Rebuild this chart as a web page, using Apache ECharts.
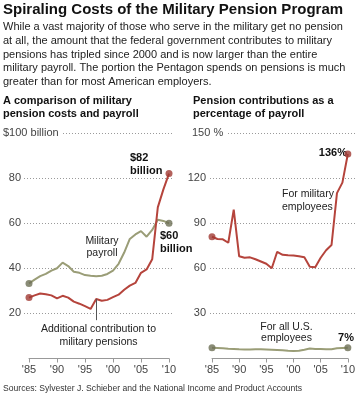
<!DOCTYPE html>
<html><head><meta charset="utf-8">
<script src="https://cdn.jsdelivr.net/npm/echarts@6/dist/echarts.min.js"></script>
<style>html,body{margin:0;padding:0;background:#fff}#c{width:358px;height:400px}</style>
</head><body><div id="c"></div>
<script>
// ---- data ----
const years = [1985,1986,1987,1988,1989,1990,1991,1992,1993,1994,1995,1996,1997,1998,1999,2000,2001,2002,2003,2004,2005,2006,2007,2008,2009,2010];
const payroll = [33.3,35,36.5,37.5,39,40,42.5,41,38.5,38,37,36.7,36.5,36.7,37.5,39,42,47,53,55,56.5,54,57,61.5,61,60];
const pensionCost = [27,28,28.8,28.5,28,26.7,27.8,27,25.2,24.3,23.2,22,26.4,25.6,26,27.2,28.3,30.5,32.3,33.5,38,39.5,44,67,75,82];
const militaryPct = [81,79.5,79.3,77,99,68,67,67.3,66,64.5,63,60,71,69,68.7,68.5,68,67.3,61,60.7,67,72,75.5,110,117,136];
const allUSPct = [7.2,7,6.8,6.5,6.3,6.1,6,6,6.1,6.1,6,5.9,5.7,5.5,5.2,5,5.2,5.8,6.6,6.4,6.3,6.2,6.2,6.8,7,7.1];
const xTickValues = [1985,1990,1995,2000,2005,2010];
const xTickLabels = ["'85","'90","'95","'00","'05","'10"];
const leftYTickValues = [20,40,60,80,100];
const leftYTickLabels = ['20','40','60','80','$100 billion'];
const rightYTickValues = [30,60,90,120,150];
const rightYTickLabels = ['30','60','90','120','150 %'];
const leaderYear = 1997, leaderEnd = 17;

const RED = '#b5443c', RED_DOT = '#a03a33', GREEN = '#9a9d77', GREEN_DOT = '#6d6f55';
const FONT = "'Liberation Sans', Arial, Helvetica, sans-serif";

function pairs(vals){ return years.map((y,i)=>[y, vals[i]]); }
function ends(vals){ return [[years[0], vals[0]], [years[years.length-1], vals[vals.length-1]]]; }
function xLabel(v){ const i = xTickValues.indexOf(v); return i >= 0 ? xTickLabels[i] : ''; }

function gridYAxis(idx, min, max, interval, vals, labels, w){
  return {
    gridIndex: idx, type: 'value', min: min, max: max, interval: interval,
    axisLine: {show: false}, axisTick: {show: false},
    axisLabel: {
      inside: true, margin: 0, color: '#444', fontFamily: FONT, fontSize: 11,
      backgroundColor: '#fff', padding: [1, 3, 1, 0],
      formatter: function(v){
        const i = vals.indexOf(v); if (i < 0) return '';
        return i === vals.length - 1 ? '{t|' + labels[i] + '}' : '{n|' + labels[i] + '}';
      },
      rich: {
        n: {width: w, align: 'right', color: '#444', fontFamily: FONT, fontSize: 11},
        t: {color: '#444', fontFamily: FONT, fontSize: 11}
      }
    },
    splitLine: {show: true, lineStyle: {color: '#9a9a9a', width: 1, type: [1, 2]}}
  };
}
function dataXAxis(idx){
  return {
    gridIndex: idx, type: 'value', min: 1985, max: 2010, interval: 5,
    axisLine: {show: true, lineStyle: {color: '#999', width: 1}},
    axisTick: {show: true, length: 4, lineStyle: {color: '#999'}},
    axisLabel: {formatter: xLabel, color: '#444', fontFamily: FONT, fontSize: 11, margin: 6},
    splitLine: {show: false}
  };
}
function txt(x, y, text, opts){
  opts = opts || {};
  return {type: 'text', x: x, y: y, silent: true, style: {
    text: text, fill: opts.fill || '#222',
    font: (opts.bold ? 'bold ' : '') + (opts.size || 11) + 'px ' + FONT,
    align: opts.align || 'left', verticalAlign: 'middle', lineHeight: opts.lh || 13
  }};
}

const chart = echarts.init(document.getElementById('c'), null, {renderer: 'canvas'});
chart.setOption({
  animation: false,
  backgroundColor: '#fff',
  grid: [
    {left: 3, right: 185, top: 133, bottom: 86.6},
    {left: 29, right: 189, top: 133, bottom: 41.5},
    {left: 192, right: 1, top: 133, bottom: 86.6},
    {left: 212, right: 6, top: 133, bottom: 41.5}
  ],
  xAxis: [
    {gridIndex: 0, type: 'value', min: 0, max: 1, show: false},
    dataXAxis(1),
    {gridIndex: 2, type: 'value', min: 0, max: 1, show: false},
    dataXAxis(3)
  ],
  yAxis: [
    gridYAxis(0, 20, 100, 20, leftYTickValues, leftYTickLabels, 18),
    {gridIndex: 1, type: 'value', min: 0, max: 100, show: false},
    gridYAxis(2, 30, 150, 30, rightYTickValues, rightYTickLabels, 14),
    {gridIndex: 3, type: 'value', min: 0, max: 150, show: false}
  ],
  series: [
    {type: 'line', xAxisIndex: 1, yAxisIndex: 1, data: pairs(payroll), symbol: 'none',
     lineStyle: {color: GREEN, width: 2}, z: 3},
    {type: 'line', xAxisIndex: 1, yAxisIndex: 1, data: pairs(pensionCost), symbol: 'none',
     lineStyle: {color: RED, width: 2}, z: 4,
     markLine: {silent: true, symbol: 'none', label: {show: false},
       lineStyle: {color: '#555', width: 1, type: 'solid'},
       data: [[{coord: [leaderYear, pensionCost[years.indexOf(leaderYear)]]}, {coord: [leaderYear, leaderEnd]}]]}},
    {type: 'scatter', xAxisIndex: 1, yAxisIndex: 1, data: ends(payroll), symbolSize: 7,
     itemStyle: {color: GREEN_DOT}, z: 5},
    {type: 'scatter', xAxisIndex: 1, yAxisIndex: 1, data: ends(pensionCost), symbolSize: 7,
     itemStyle: {color: RED_DOT}, z: 5},
    {type: 'line', xAxisIndex: 3, yAxisIndex: 3, data: pairs(militaryPct), symbol: 'none',
     lineStyle: {color: RED, width: 2}, z: 4},
    {type: 'line', xAxisIndex: 3, yAxisIndex: 3, data: pairs(allUSPct), symbol: 'none',
     lineStyle: {color: GREEN, width: 2}, z: 3},
    {type: 'scatter', xAxisIndex: 3, yAxisIndex: 3, data: ends(militaryPct), symbolSize: 7,
     itemStyle: {color: RED_DOT}, z: 5},
    {type: 'scatter', xAxisIndex: 3, yAxisIndex: 3, data: ends(allUSPct), symbolSize: 7,
     itemStyle: {color: GREEN_DOT}, z: 5}
  ],
  graphic: [
    txt(3, 10, 'Spiraling Costs of the Military Pension Program', {bold: true, size: 15, fill: '#111'}),
    txt(3, 27, 'While a vast majority of those who serve in the military get no pension'),
    txt(3, 41, 'at all, the amount that the federal government contributes to military'),
    txt(3, 55, 'pensions has tripled since 2000 and is now larger than the entire'),
    txt(3, 68, 'military payroll. The portion the Pentagon spends on pensions is much'),
    txt(3, 82, 'greater than for most American employers.'),
    txt(3, 101, 'A comparison of military', {bold: true, size: 11, fill: '#111'}),
    txt(3, 113.5, 'pension costs and payroll', {bold: true, size: 11, fill: '#111'}),
    txt(193, 101, 'Pension contributions as a', {bold: true, size: 11, fill: '#111'}),
    txt(193, 113.5, 'percentage of payroll', {bold: true, size: 11, fill: '#111'}),
    txt(130, 158, '$82', {bold: true, size: 11, fill: '#111'}),
    txt(130, 171, 'billion', {bold: true, size: 11, fill: '#111'}),
    txt(160, 236, '$60', {bold: true, size: 11, fill: '#111'}),
    txt(160, 248.5, 'billion', {bold: true, size: 11, fill: '#111'}),
    txt(102, 241, 'Military', {align: 'center', size: 10.5}),
    txt(102, 253.5, 'payroll', {align: 'center', size: 10.5}),
    txt(98.5, 329.5, 'Additional contribution to', {align: 'center', size: 10.5}),
    txt(98.5, 342, 'military pensions', {align: 'center', size: 10.5}),
    txt(347, 153, '136%', {align: 'right', bold: true, size: 11, fill: '#111'}),
    txt(282, 194, 'For military', {size: 10.5}),
    txt(282, 207, 'employees', {size: 10.5}),
    txt(286.5, 327, 'For all U.S.', {align: 'center', size: 10.5}),
    txt(286.5, 338.5, 'employees', {align: 'center', size: 10.5}),
    txt(346, 337.5, '7%', {align: 'center', bold: true, size: 11, fill: '#111'}),
    txt(3, 388.5, 'Sources: Sylvester J. Schieber and the National Income and Product Accounts', {size: 8.6, fill: '#333'})
  ]
});
</script></body></html>
